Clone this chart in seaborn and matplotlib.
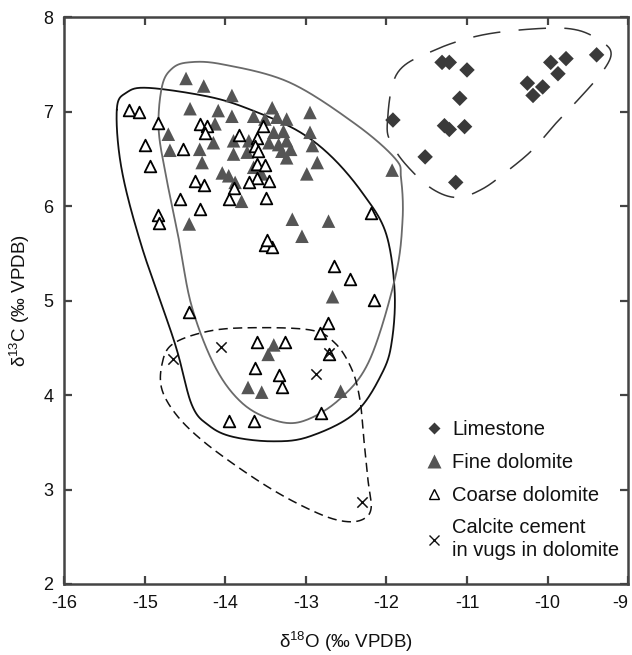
import numpy as np
import pandas as pd
import matplotlib
matplotlib.use("Agg")
import matplotlib.pyplot as plt
import seaborn as sns
from matplotlib.lines import Line2D

# ---------------- data ----------------
lime_x = [-11.92, -11.52, -11.14, -11.31, -11.22, -11.00, -11.09, -11.28, -11.22,
          -11.03, -9.96, -9.77, -9.39, -9.87, -10.25, -10.06, -10.18]
lime_y = [6.91, 6.52, 6.25, 7.52, 7.52, 7.44, 7.14, 6.85, 6.81,
          6.84, 7.52, 7.56, 7.60, 7.40, 7.30, 7.26, 7.17]

fine_x = [-14.49, -14.27, -14.44, -14.71, -14.69, -14.32, -14.29, -14.45,
          -13.92, -14.09, -13.92, -14.13, -14.15, -13.90, -13.90, -14.04, -13.96,
          -13.88, -13.80, -13.65, -13.71, -13.73, -13.65, -13.55, -13.42, -13.51,
          -13.36, -13.24, -13.40, -13.28, -13.46, -13.34, -13.24, -13.19, -13.24,
          -13.30, -12.95, -12.95, -12.92, -12.86, -12.99, -13.17, -13.05, -12.72,
          -11.93, -12.67, -13.40, -13.47, -13.72, -13.55, -12.57]
fine_y = [7.35, 7.27, 7.03, 6.76, 6.59, 6.60, 6.46, 5.81,
          7.17, 7.01, 6.95, 6.87, 6.67, 6.69, 6.55, 6.35, 6.32,
          6.25, 6.05, 6.95, 6.69, 6.57, 6.41, 6.34, 7.04, 6.92,
          6.94, 6.92, 6.78, 6.79, 6.67, 6.65, 6.69, 6.60, 6.51,
          6.58, 6.99, 6.78, 6.64, 6.46, 6.34, 5.86, 5.68, 5.84,
          6.38, 5.04, 4.53, 4.43, 4.08, 4.03, 4.04]

coarse_x = [-15.20, -15.08, -14.84, -15.00, -14.53, -14.94, -14.32, -14.23, -14.25,
            -14.38, -14.27, -14.57, -14.32, -14.84, -14.83,
            -13.83, -13.54, -13.61, -13.63, -13.59, -13.61, -13.51, -13.61, -13.71,
            -13.46, -13.89, -13.96, -13.50, -12.19,
            -13.51, -13.42, -13.49, -12.65, -12.45, -12.16, -14.45, -12.73, -12.83,
            -13.61, -13.26, -12.72, -13.63, -13.34, -13.30, -12.81, -13.96, -13.65]
coarse_y = [7.02, 6.99, 6.88, 6.65, 6.60, 6.42, 6.87, 6.85, 6.77,
            6.26, 6.22, 6.07, 5.97, 5.91, 5.82,
            6.75, 6.85, 6.72, 6.64, 6.58, 6.44, 6.43, 6.30, 6.25,
            6.26, 6.19, 6.07, 6.08, 5.93,
            5.59, 5.57, 5.64, 5.36, 5.23, 5.01, 4.88, 4.76, 4.66,
            4.56, 4.56, 4.43, 4.29, 4.21, 4.08, 3.81, 3.73, 3.72]

calc_x = [-14.65, -14.06, -12.72, -12.87, -12.31]
calc_y = [4.38, 4.51, 4.44, 4.22, 2.87]

# hand-drawn envelope outlines (data units)
coarse_env_x = [-15.35, -15.23, -14.95, -14.17, -13.63, -13.09, -12.68, -12.30, -12.01,
                -11.90, -11.93, -12.05, -12.39, -12.96, -13.42, -13.92, -14.21, -14.42,
                -14.63, -15.04, -15.29]
coarse_env_y = [7.02, 7.20, 7.25, 7.15, 7.00, 6.79, 6.52, 6.14, 5.72,
                5.12, 4.59, 4.24, 3.81, 3.56, 3.51, 3.56, 3.68, 3.90,
                4.55, 5.57, 6.39]

fine_env_x = [-14.83, -14.79, -14.67, -14.46, -14.04, -13.21, -12.39, -11.89, -11.82,
              -11.80, -11.89, -12.21, -12.59, -13.05, -13.42, -13.80, -14.13, -14.42,
              -14.58, -14.73]
fine_env_y = [6.81, 7.26, 7.45, 7.52, 7.50, 7.31, 6.87, 6.50, 6.30,
              5.86, 5.25, 4.37, 3.95, 3.72, 3.74, 3.92, 4.30, 4.94,
              5.65, 6.28]

calc_env_x = [-14.79, -14.67, -14.29, -13.80, -12.96, -12.64, -12.43, -12.33, -12.28,
              -12.23, -12.19, -12.28, -12.49, -12.80, -13.30, -13.80, -14.29, -14.61,
              -14.79]
calc_env_y = [4.32, 4.53, 4.66, 4.71, 4.69, 4.55, 4.27, 3.95, 3.52,
              3.10, 2.81, 2.69, 2.66, 2.73, 2.94, 3.21, 3.52, 3.79,
              4.06]

lime_env_x = [-11.99, -11.87, -11.43, -10.81, -10.06, -9.62, -9.31, -9.21, -9.31,
              -9.56, -9.87, -10.18, -10.50, -10.81, -11.12, -11.43, -11.74, -11.93]
lime_env_y = [6.87, 7.40, 7.64, 7.81, 7.88, 7.86, 7.73, 7.61, 7.43,
              7.18, 6.90, 6.60, 6.37, 6.18, 6.09, 6.18, 6.42, 6.65]

x_ticks = [-16, -15, -14, -13, -12, -11, -10, -9]
y_ticks = [2, 3, 4, 5, 6, 7, 8]
labels = ["Limestone", "Fine dolomite", "Coarse dolomite", "Calcite cement\nin vugs in dolomite"]


def closed_spline(xs, ys, n=24):
    P = np.column_stack([xs, ys])
    m = len(P)
    t = np.linspace(0, 1, n, endpoint=False)[:, None]
    segs = []
    for i in range(m):
        p0, p1, p2, p3 = P[(i - 1) % m], P[i], P[(i + 1) % m], P[(i + 2) % m]
        segs.append(0.5 * (2 * p1 + (-p0 + p2) * t + (2 * p0 - 5 * p1 + 4 * p2 - p3) * t ** 2
                           + (-p0 + 3 * p1 - 3 * p2 + p3) * t ** 3))
    out = np.vstack(segs + [segs[0][:1]])
    return out[:, 0], out[:, 1]


# ---------------- style ----------------
sns.set_style("ticks")
plt.rcParams["font.family"] = ["Liberation Sans", "DejaVu Sans"]
plt.rcParams["mathtext.fontset"] = "custom"
plt.rcParams["mathtext.rm"] = "Liberation Sans"
plt.rcParams["mathtext.it"] = "Liberation Sans:italic"

fig = plt.figure(figsize=(6.32, 6.55), dpi=100)
ax = fig.add_axes([0.102, 0.1084, 0.8917, 0.8656])

# envelopes
for ex, ey, col, lw, dash in [
    (coarse_env_x, coarse_env_y, "#111111", 1.3, None),
    (fine_env_x, fine_env_y, "#6a6a6a", 1.3, None),
    (calc_env_x, calc_env_y, "#111111", 1.1, (6, 3.5)),
    (lime_env_x, lime_env_y, "#333333", 1.1, (18, 12)),
]:
    sx, sy = closed_spline(ex, ey)
    ln, = ax.plot(sx, sy, color=col, lw=lw, zorder=1)
    if dash is not None:
        ln.set_dashes(dash)

# points
sns.scatterplot(x=fine_x, y=fine_y, marker="^", s=95, color="#555555",
                edgecolor="none", ax=ax, zorder=3)
sns.scatterplot(x=coarse_x, y=coarse_y, marker="^", s=70, color="white",
                edgecolor="black", linewidth=1.3, ax=ax, zorder=4)
sns.scatterplot(x=lime_x, y=lime_y, marker="D", s=62, color="#3a3a3a",
                edgecolor="none", ax=ax, zorder=3)
sns.scatterplot(x=calc_x, y=calc_y, marker="x", s=55, color="#111111",
                linewidth=1.1, ax=ax, zorder=4)

ax.set_xlim(-16, -9)
ax.set_ylim(2, 8)
ax.set_xticks(x_ticks)
ax.set_yticks(y_ticks)
ax.set_xticklabels([str(v) for v in x_ticks])
ax.set_yticklabels([str(v) for v in y_ticks])
ax.tick_params(direction="in", length=6, width=1.6, color="#444444",
               top=True, right=True, labelsize=13, pad=8, labelcolor="#111111")
ax.get_xticklabels()[-1].set_horizontalalignment("right")
for sp in ax.spines.values():
    sp.set_color("#444444")
    sp.set_linewidth(1.8)

ax.set_xlabel(r"δ$^{18}$O (‰ VPDB)", fontsize=13.5, labelpad=13, color="#111111")
ax.set_ylabel(r"δ$^{13}$C (‰ VPDB)", fontsize=13.5, labelpad=8, color="#111111")

handles = [
    Line2D([], [], ls="none", marker="D", markersize=6.5, color="#3a3a3a", markeredgecolor="none"),
    Line2D([], [], ls="none", marker="^", markersize=10, color="#555555", markeredgecolor="none"),
    Line2D([], [], ls="none", marker="^", markersize=7, markerfacecolor="white",
           markeredgecolor="black", markeredgewidth=1.0),
    Line2D([], [], ls="none", marker="x", markersize=7, color="#111111", markeredgewidth=1.0),
]
leg = ax.legend(handles, labels, loc="upper left", bbox_to_anchor=(0.62, 0.303),
                frameon=False, fontsize=14.5, handletextpad=0.3, labelspacing=0.68,
                handlelength=1.2, borderaxespad=0)
for t in leg.get_texts():
    t.set_color("#111111")
    t.set_linespacing(1.25)

fig.savefig("out.png", dpi=100)
